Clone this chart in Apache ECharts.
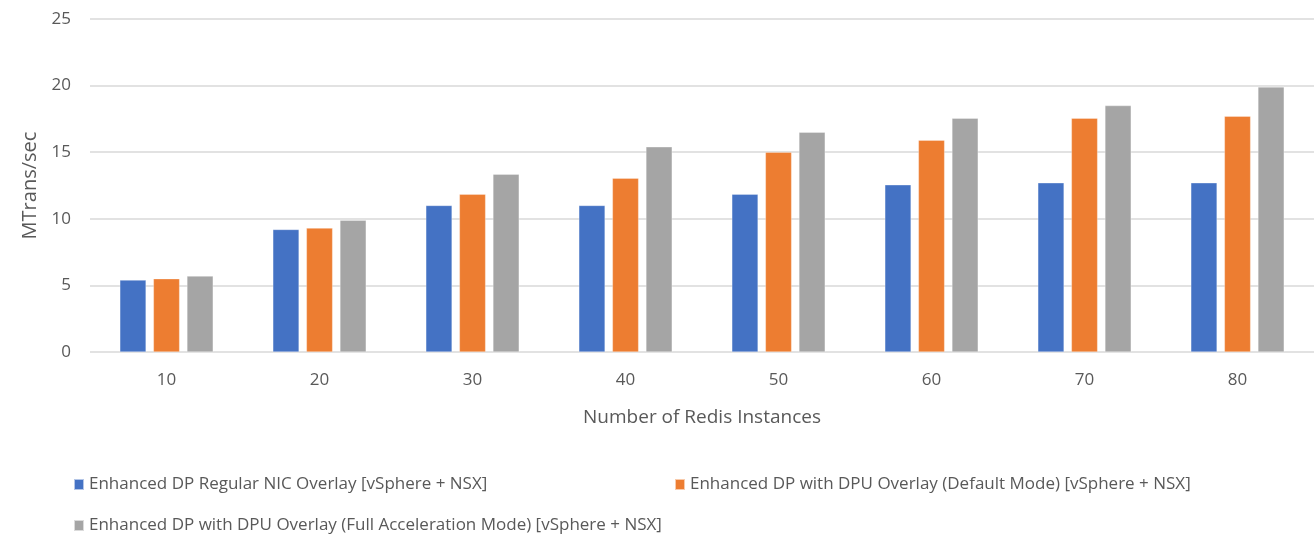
<!DOCTYPE html>
<html><head><meta charset="utf-8">
<script src="https://cdn.jsdelivr.net/npm/echarts@6/dist/echarts.min.js"></script>
<style>html,body{margin:0;padding:0;background:#fff}#c{width:1314px;height:535px}</style>
</head><body><div id="c"></div>
<script>
const categories = ['10','20','30','40','50','60','70','80'];
const seriesNames = [
  'Enhanced DP Regular NIC Overlay [vSphere + NSX]',
  'Enhanced DP with DPU Overlay (Default Mode) [vSphere + NSX]',
  'Enhanced DP with DPU Overlay (Full Acceleration Mode) [vSphere + NSX]'
];
const regularNic = [5.4, 9.2, 11.0, 11.0, 11.85, 12.55, 12.7, 12.7];
const dpuDefault = [5.5, 9.3, 11.85, 13.05, 15.0, 15.9, 17.55, 17.7];
const dpuFull = [5.7, 9.9, 13.35, 15.4, 16.5, 17.55, 18.5, 19.9];
const colors = ['#4472C4','#ED7D31','#A5A5A5'];
const font = '"Open Sans", sans-serif';
const txt = '#595959';

const chart = echarts.init(document.getElementById('c'));
const legendPos = [{left: 68, top: 471}, {left: 669, top: 471}, {left: 68, top: 512}];
chart.setOption({
  animation: false,
  textStyle: {fontFamily: font},
  grid: {left: 90, right: -7, top: 19, bottom: 183, containLabel: false},
  legend: seriesNames.map((n, i) => ({
    data: [n], left: legendPos[i].left, top: legendPos[i].top,
    itemWidth: 10, itemHeight: 11, itemGap: 4, icon: 'rect',
    textStyle: {fontFamily: font, fontSize: 17, color: txt}
  })),
  xAxis: {
    type: 'category', data: categories,
    name: 'Number of Redis Instances', nameLocation: 'middle', nameGap: 56,
    nameTextStyle: {fontFamily: font, fontSize: 19, color: txt},
    axisLine: {show: false}, axisTick: {show: false},
    axisLabel: {fontFamily: font, fontSize: 17, color: txt, margin: 20}
  },
  yAxis: {
    type: 'value', min: 0, max: 25, interval: 5,
    name: 'MTrans/sec', nameLocation: 'middle', nameGap: 45,
    nameTextStyle: {fontFamily: font, fontSize: 20, color: txt},
    axisLine: {show: false}, axisTick: {show: false},
    axisLabel: {fontFamily: font, fontSize: 17, color: txt, margin: 19},
    splitLine: {lineStyle: {color: '#d9d9d9', width: 1.5}}
  },
  series: [regularNic, dpuDefault, dpuFull].map((d, i) => ({
    name: seriesNames[i], type: 'bar', data: d,
    barGap: '28%', barCategoryGap: '39%',
    itemStyle: {color: colors[i], borderColor: 'rgba(255,255,255,0.6)', borderWidth: 0.5}
  }))
});
</script></body></html>
